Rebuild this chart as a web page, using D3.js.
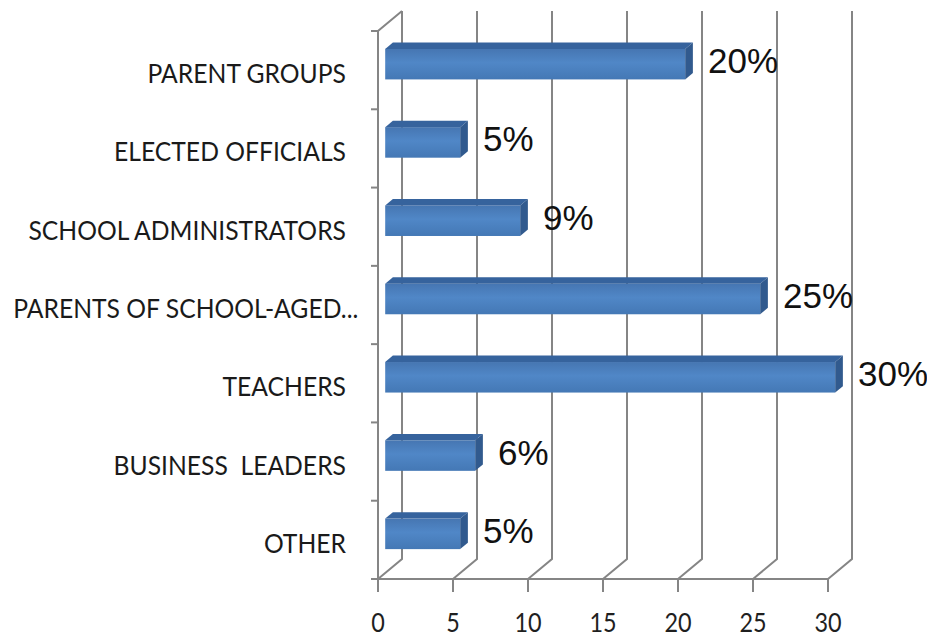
<!DOCTYPE html>
<html>
<head>
<meta charset="utf-8">
<script src="https://cdn.jsdelivr.net/npm/d3@7"></script>
<style>
  body { margin: 0; background: #fff; }
  svg { display: block; }
  text { white-space: pre; }
</style>
</head>
<body>
<div id="chart"></div>
<script>
// data
const categories = ["PARENT GROUPS", "ELECTED OFFICIALS", "SCHOOL ADMINISTRATORS",
  "PARENTS OF SCHOOL-AGED...", "TEACHERS", "BUSINESS  LEADERS", "OTHER"];
const values = [20, 5, 9, 25, 30, 6, 5];
const valueLabels = ["20%", "5%", "9%", "25%", "30%", "6%", "5%"];
const xTicks = [0, 5, 10, 15, 20, 25, 30];

const width = 927, height = 636;
const depth = { dx: 24, dy: -20 };   // front plane -> back wall
const barFront = 0.3, barBack = 0.62;  // bar depth inside the box
const gridColor = "#858585";

const svg = d3.select("#chart").append("svg")
  .attr("width", width)
  .attr("height", height);

const x = d3.scaleLinear().domain([0, 30]).range([378, 828]);
const y = d3.scaleBand().domain(categories).range([31, 579]).paddingInner(0.61).paddingOuter(0.305);
const step = y.step();
const y0 = 31, y1 = 579;

const defs = svg.append("defs");
const grad = defs.append("linearGradient").attr("id", "front").attr("x1", 0).attr("y1", 0).attr("x2", 0).attr("y2", 1);
grad.append("stop").attr("offset", "0%").attr("stop-color", "#4676b2");
grad.append("stop").attr("offset", "45%").attr("stop-color", "#5087c7");
grad.append("stop").attr("offset", "100%").attr("stop-color", "#4478b5");

// back wall gridlines bending onto the floor
const grid = svg.append("g").attr("fill", "none").attr("stroke", gridColor).attr("stroke-width", 2);
grid.selectAll("path.grid").data(xTicks).join("path")
  .attr("class", "grid")
  .attr("d", d => `M${x(d) + depth.dx},${y0 + depth.dy} L${x(d) + depth.dx},${y1 + depth.dy} L${x(d)},${y1}`);

// left side: front axis line + top diagonal
grid.append("path")
  .attr("d", `M${x(0) + depth.dx},${y0 + depth.dy} L${x(0)},${y0} L${x(0)},${y1} L${x(30)},${y1}`);

// category ticks on the left axis
const bounds = d3.range(categories.length + 1).map(i => y0 + i * step);
grid.selectAll("line.ytick").data(bounds).join("line")
  .attr("x1", x(0) - 7).attr("x2", x(0))
  .attr("y1", d => d).attr("y2", d => d);

// value ticks below the floor
grid.selectAll("line.xtick").data(xTicks).join("line")
  .attr("x1", d => x(d)).attr("x2", d => x(d))
  .attr("y1", y1).attr("y2", y1 + 13);

// bars
const fx = barFront * depth.dx, fy = barFront * depth.dy;
const bx = barBack * depth.dx, by = barBack * depth.dy;
const bars = svg.append("g").selectAll("g.bar")
  .data(categories.map((c, i) => ({ name: c, value: values[i], label: valueLabels[i] })))
  .join("g").attr("class", "bar");

bars.append("rect")
  .attr("x", x(0) + fx)
  .attr("y", d => y(d.name) + fy)
  .attr("width", d => x(d.value) - x(0))
  .attr("height", y.bandwidth())
  .attr("fill", "url(#front)");

bars.append("path")
  .attr("fill", "#36639d")
  .attr("d", d => {
    const t = y(d.name), r = x(d.value), l = x(0);
    return `M${l + fx},${t + fy} L${l + bx},${t + by} L${r + bx},${t + by} L${r + fx},${t + fy}Z`;
  });

bars.append("path")
  .attr("fill", "#315a8e")
  .attr("d", d => {
    const t = y(d.name), b = t + y.bandwidth(), r = x(d.value);
    return `M${r + fx},${t + fy} L${r + bx},${t + by} L${r + bx},${b + by} L${r + fx},${b + fy}Z`;
  });

// value labels
bars.append("text")
  .attr("x", d => x(d.value) + 30)
  .attr("y", d => y(d.name) + y.bandwidth() / 2 + 3)
  .attr("font-family", "'Liberation Sans', Arial, sans-serif")
  .attr("font-size", 35)
  .attr("fill", "#111")
  .text(d => d.label);

// category labels, right aligned but never past the left edge
const labelScale = 0.95;
svg.append("g").selectAll("text.cat").data(categories).join("text")
  .attr("class", "cat")
  .attr("font-family", "Lato, 'Open Sans', sans-serif")
  .attr("font-size", 26)
  .attr("fill", "#1a1a1a")
  .attr("text-anchor", "end")
  .text(d => d)
  .attr("transform", function(d) {
    const w = this.getComputedTextLength() * labelScale;
    const right = Math.max(346, 13 + w);
    return `translate(${right},${y(d) + y.bandwidth() / 2 + 13}) scale(${labelScale},1)`;
  });

// value axis labels
svg.append("g").selectAll("text.xl").data(xTicks).join("text")
  .attr("class", "xl")
  .attr("font-family", "Lato, 'Open Sans', sans-serif")
  .attr("font-size", 26)
  .attr("fill", "#1f1f1f")
  .attr("text-anchor", "middle")
  .attr("transform", d => `translate(${x(d)},632) scale(0.9,1)`)
  .text(d => d);
</script>
</body>
</html>
